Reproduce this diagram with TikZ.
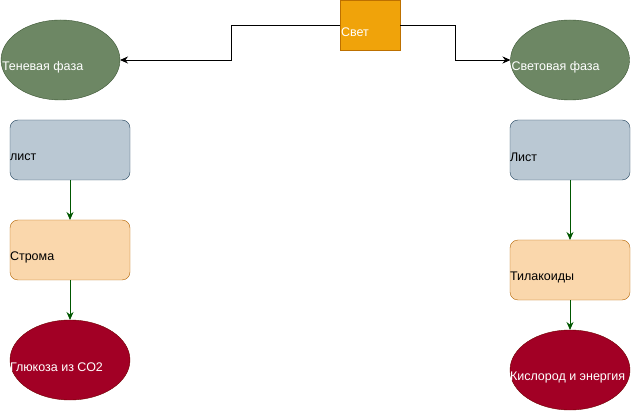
\documentclass[tikz,border=0pt]{standalone}
\usepackage{fontspec}
\setmainfont{Liberation Sans}
\usetikzlibrary{shapes.geometric,arrows.meta}
\definecolor{gfill}{HTML}{6D8764}\definecolor{gdraw}{HTML}{3A5431}
\definecolor{ofill}{HTML}{F0A30A}\definecolor{odraw}{HTML}{BD7000}
\definecolor{bfill}{HTML}{BAC8D3}\definecolor{bdraw}{HTML}{23445D}
\definecolor{pfill}{HTML}{FAD7AC}\definecolor{pdraw}{HTML}{B46504}
\definecolor{rfill}{HTML}{A20025}\definecolor{rdraw}{HTML}{6F0000}
\definecolor{agreen}{HTML}{005700}
\tikzset{
  base/.style={inner sep=0pt, outer sep=0pt, font=\fontsize{12.5}{14}\selectfont},
  phase/.style={base, ellipse, draw=gdraw, fill=gfill, minimum width=119pt, minimum height=80pt},
  lightbox/.style={base, rectangle, draw=odraw, fill=ofill, minimum width=60pt, minimum height=50pt},
  leaf/.style={base, rectangle, rounded corners=8pt, draw=bdraw, fill=bfill, minimum width=120pt, minimum height=60pt},
  part/.style={base, rectangle, rounded corners=8pt, draw=pdraw, fill=pfill, minimum width=120pt, minimum height=60pt},
  result/.style={base, ellipse, draw=rdraw, fill=rfill, minimum width=120pt, minimum height=80pt},
  wtxt/.style={base, anchor=west, text=white, yshift=-7.5pt},
  btxt/.style={base, anchor=west, text=black, yshift=-7.5pt},
  blackarrow/.style={draw=black, line width=0.9pt, -{Stealth[length=8pt,width=7pt]}},
  greenarrow/.style={draw=agreen, line width=0.9pt, -{Stealth[length=8pt,width=7pt]}},
}
\begin{document}
\begin{tikzpicture}[x=1pt,y=-1pt]
\useasboundingbox (0,0) rectangle (631,411);
\node[lightbox] (svet) at (370,25) {};
\node[wtxt] (svett) at ([xshift=1pt]svet.west) {Свет};
\node[phase] (ten) at (60.5,60) {};
\node[wtxt] (tent) at ([xshift=1pt]ten.west) {Теневая фаза};
\node[phase] (sv) at (570,60) {};
\node[wtxt] (svt) at ([xshift=1pt]sv.west) {Световая фаза};

\node[leaf] (l1) at (70,150) {};
\node[btxt] (l1t) at (l1.west) {лист};
\node[part] (str) at (70,250) {};
\node[btxt] (strt) at (str.west) {Строма};
\node[result] (glu) at (70,360) {};
\node[wtxt] (glut) at (glu.west) {Глюкоза из СО2};

\node[leaf] (l2) at (570,150) {};
\node[btxt] (l2t) at (l2.west) {Лист};
\node[part] (til) at (570,270) {};
\node[btxt] (tilt) at (til.west) {Тилакоиды};
\node[result] (kis) at (570,370) {};
\node[wtxt] (kist) at (kis.west) {Кислород и энергия};

\draw[blackarrow] (svet.west) -- (231,25) -- (231,60) -- (ten.east);
\draw[blackarrow] (svet.east) -- (455,25) -- (455,60) -- (sv.west);
\draw[greenarrow] (l1.south) -- (str.north);
\draw[greenarrow] (str.south) -- (glu.north);
\draw[greenarrow] (l2.south) -- (til.north);
\draw[greenarrow] (til.south) -- (kis.north);
\end{tikzpicture}
\end{document}
